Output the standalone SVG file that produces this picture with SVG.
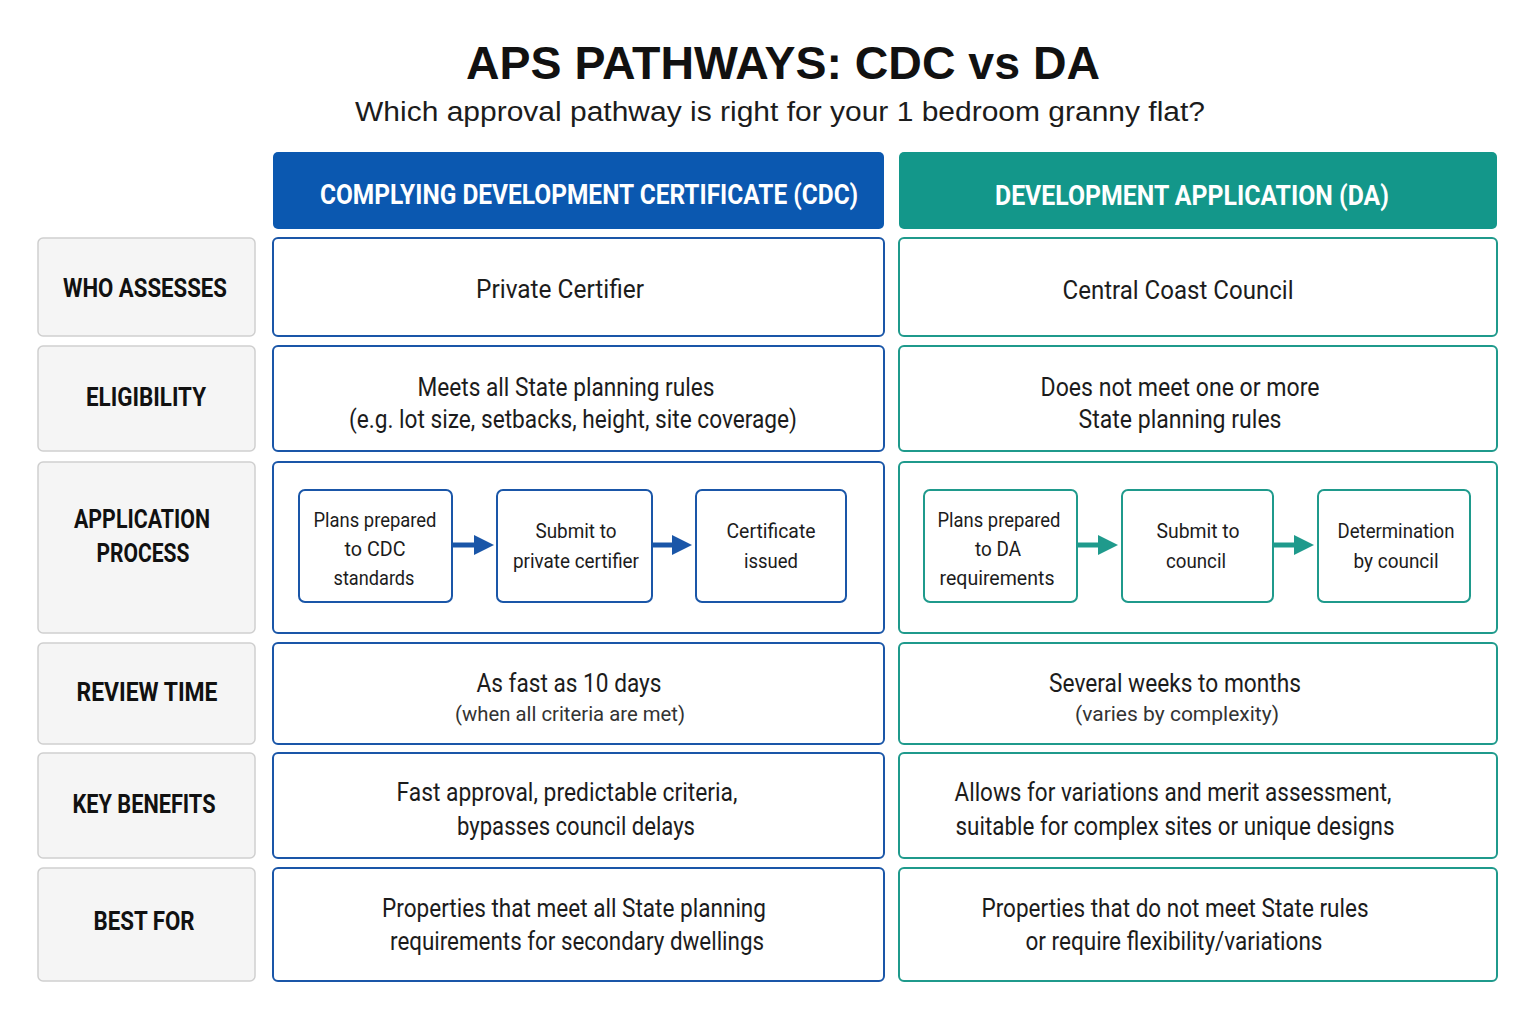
<svg xmlns="http://www.w3.org/2000/svg" width="1536" height="1023" viewBox="0 0 1536 1023">
<style>
text{font-family:"Roboto","Liberation Sans",sans-serif;text-anchor:middle;fill:#1c1c1c}
.lab{fill:#f5f5f5;stroke:#cfcfcf;stroke-width:1.5}
.lt{font-weight:bold;font-size:26px;fill:#111}
.cb{fill:#fff;stroke:#1a56a8;stroke-width:2}
.db{fill:#fff;stroke:#1f9a8c;stroke-width:2}
.t{font-size:25px}
.s{font-size:21px;fill:#333}
.p{font-size:20px}
.h{font-weight:bold;font-size:27px;fill:#fff}
</style>
<defs>
<marker id="ab" markerWidth="4" markerHeight="4" refX="2" refY="2" orient="auto"><path d="M0,0L4,2L0,4z" fill="#1a56a8"/></marker>
<marker id="at" markerWidth="4" markerHeight="4" refX="2" refY="2" orient="auto"><path d="M0,0L4,2L0,4z" fill="#1f9a8c"/></marker>
</defs>
<rect width="1536" height="1023" fill="#fff"/>
<text x="783" y="79" textLength="634" lengthAdjust="spacingAndGlyphs" style="font-family:'Liberation Sans',sans-serif;font-weight:bold;font-size:46px;fill:#111">APS PATHWAYS: CDC vs DA</text>
<text x="780" y="121" textLength="850" lengthAdjust="spacingAndGlyphs" style="font-family:'Liberation Sans',sans-serif;font-size:27px">Which approval pathway is right for your 1 bedroom granny flat?</text>
<g id="hdr-cdc"><rect x="273" y="152" width="611" height="77" rx="5" fill="#0b58b0"/><text class="h" x="589" y="204" textLength="538" lengthAdjust="spacingAndGlyphs">COMPLYING DEVELOPMENT CERTIFICATE (CDC)</text></g>
<g id="hdr-da"><rect x="899" y="152" width="598" height="77" rx="5" fill="#13978a"/><text class="h" x="1192" y="205" textLength="394" lengthAdjust="spacingAndGlyphs">DEVELOPMENT APPLICATION (DA)</text></g>

<g id="row1"><rect class="lab" x="38" y="238" width="217" height="98" rx="5"/><text class="lt" x="145" y="297" textLength="164" lengthAdjust="spacingAndGlyphs">WHO ASSESSES</text>
<rect class="cb" x="273" y="238" width="611" height="98" rx="5"/><text class="t" x="560" y="298" textLength="168" lengthAdjust="spacingAndGlyphs">Private Certifier</text>
<rect class="db" x="899" y="238" width="598" height="98" rx="5"/><text class="t" x="1178" y="299" textLength="231" lengthAdjust="spacingAndGlyphs">Central Coast Council</text></g>

<g id="row2"><rect class="lab" x="38" y="346" width="217" height="105" rx="5"/><text class="lt" x="146" y="406" textLength="120" lengthAdjust="spacingAndGlyphs">ELIGIBILITY</text>
<rect class="cb" x="273" y="346" width="611" height="105" rx="5"/><text class="t" x="566" y="396" textLength="297" lengthAdjust="spacingAndGlyphs">Meets all State planning rules</text><text class="t" x="573" y="428" textLength="448" lengthAdjust="spacingAndGlyphs">(e.g. lot size, setbacks, height, site coverage)</text>
<rect class="db" x="899" y="346" width="598" height="105" rx="5"/><text class="t" x="1180" y="396" textLength="279" lengthAdjust="spacingAndGlyphs">Does not meet one or more</text><text class="t" x="1180" y="428" textLength="203" lengthAdjust="spacingAndGlyphs">State planning rules</text></g>

<g id="row3"><rect class="lab" x="38" y="462" width="217" height="171" rx="5"/><text class="lt" x="142" y="528" textLength="136" lengthAdjust="spacingAndGlyphs">APPLICATION</text><text class="lt" x="143" y="562" textLength="93" lengthAdjust="spacingAndGlyphs">PROCESS</text>
<rect class="cb" x="273" y="462" width="611" height="171" rx="5"/>
<rect class="db" x="899" y="462" width="598" height="171" rx="5"/></g>
<g id="cdc1"><rect class="cb" x="299" y="490" width="153" height="112" rx="6"/><text class="p" x="375" y="527" textLength="123" lengthAdjust="spacingAndGlyphs">Plans prepared</text><text class="p" x="375" y="556" textLength="61" lengthAdjust="spacingAndGlyphs">to CDC</text><text class="p" x="374" y="585" textLength="81" lengthAdjust="spacingAndGlyphs">standards</text></g>
<g id="cdc2"><rect class="cb" x="497" y="490" width="155" height="112" rx="6"/><text class="p" x="576" y="538" textLength="81" lengthAdjust="spacingAndGlyphs">Submit to</text><text class="p" x="576" y="568" textLength="126" lengthAdjust="spacingAndGlyphs">private certifier</text></g>
<g id="cdc3"><rect class="cb" x="696" y="490" width="150" height="112" rx="6"/><text class="p" x="771" y="538" textLength="89" lengthAdjust="spacingAndGlyphs">Certificate</text><text class="p" x="771" y="568" textLength="54" lengthAdjust="spacingAndGlyphs">issued</text></g>
<g id="da1"><rect class="db" x="924" y="490" width="153" height="112" rx="6"/><text class="p" x="999" y="527" textLength="123" lengthAdjust="spacingAndGlyphs">Plans prepared</text><text class="p" x="998" y="556" textLength="46" lengthAdjust="spacingAndGlyphs">to DA</text><text class="p" x="997" y="585" textLength="115" lengthAdjust="spacingAndGlyphs">requirements</text></g>
<g id="da2"><rect class="db" x="1122" y="490" width="151" height="112" rx="6"/><text class="p" x="1198" y="538" textLength="83" lengthAdjust="spacingAndGlyphs">Submit to</text><text class="p" x="1196" y="568" textLength="60" lengthAdjust="spacingAndGlyphs">council</text></g>
<g id="da3"><rect class="db" x="1318" y="490" width="152" height="112" rx="6"/><text class="p" x="1396" y="538" textLength="117" lengthAdjust="spacingAndGlyphs">Determination</text><text class="p" x="1396" y="568" textLength="85" lengthAdjust="spacingAndGlyphs">by council</text></g>
<g id="connectors" stroke-width="5">
<line x1="453" y1="545" x2="484" y2="545" stroke="#1a56a8" marker-end="url(#ab)"/>
<line x1="653" y1="545" x2="682" y2="545" stroke="#1a56a8" marker-end="url(#ab)"/>
<line x1="1078" y1="545" x2="1108" y2="545" stroke="#1f9a8c" marker-end="url(#at)"/>
<line x1="1274" y1="545" x2="1304" y2="545" stroke="#1f9a8c" marker-end="url(#at)"/>
</g>

<g id="row4"><rect class="lab" x="38" y="643" width="217" height="101" rx="5"/><text class="lt" x="147" y="701" textLength="141" lengthAdjust="spacingAndGlyphs">REVIEW TIME</text>
<rect class="cb" x="273" y="643" width="611" height="101" rx="5"/><text class="t" x="569" y="692" textLength="185" lengthAdjust="spacingAndGlyphs">As fast as 10 days</text><text class="s" x="570" y="721" textLength="230" lengthAdjust="spacingAndGlyphs">(when all criteria are met)</text>
<rect class="db" x="899" y="643" width="598" height="101" rx="5"/><text class="t" x="1175" y="692" textLength="252" lengthAdjust="spacingAndGlyphs">Several weeks to months</text><text class="s" x="1177" y="721" textLength="204" lengthAdjust="spacingAndGlyphs">(varies by complexity)</text></g>

<g id="row5"><rect class="lab" x="38" y="753" width="217" height="105" rx="5"/><text class="lt" x="144" y="813" textLength="143" lengthAdjust="spacingAndGlyphs">KEY BENEFITS</text>
<rect class="cb" x="273" y="753" width="611" height="105" rx="5"/><text class="t" x="567" y="801" textLength="341" lengthAdjust="spacingAndGlyphs">Fast approval, predictable criteria,</text><text class="t" x="576" y="835" textLength="238" lengthAdjust="spacingAndGlyphs">bypasses council delays</text>
<rect class="db" x="899" y="753" width="598" height="105" rx="5"/><text class="t" x="1173" y="801" textLength="437" lengthAdjust="spacingAndGlyphs">Allows for variations and merit assessment,</text><text class="t" x="1175" y="835" textLength="439" lengthAdjust="spacingAndGlyphs">suitable for complex sites or unique designs</text></g>

<g id="row6"><rect class="lab" x="38" y="868" width="217" height="113" rx="5"/><text class="lt" x="144" y="930" textLength="101" lengthAdjust="spacingAndGlyphs">BEST FOR</text>
<rect class="cb" x="273" y="868" width="611" height="113" rx="5"/><text class="t" x="574" y="917" textLength="384" lengthAdjust="spacingAndGlyphs">Properties that meet all State planning</text><text class="t" x="577" y="950" textLength="374" lengthAdjust="spacingAndGlyphs">requirements for secondary dwellings</text>
<rect class="db" x="899" y="868" width="598" height="113" rx="5"/><text class="t" x="1175" y="917" textLength="387" lengthAdjust="spacingAndGlyphs">Properties that do not meet State rules</text><text class="t" x="1174" y="950" textLength="297" lengthAdjust="spacingAndGlyphs">or require flexibility/variations</text></g>
</svg>
